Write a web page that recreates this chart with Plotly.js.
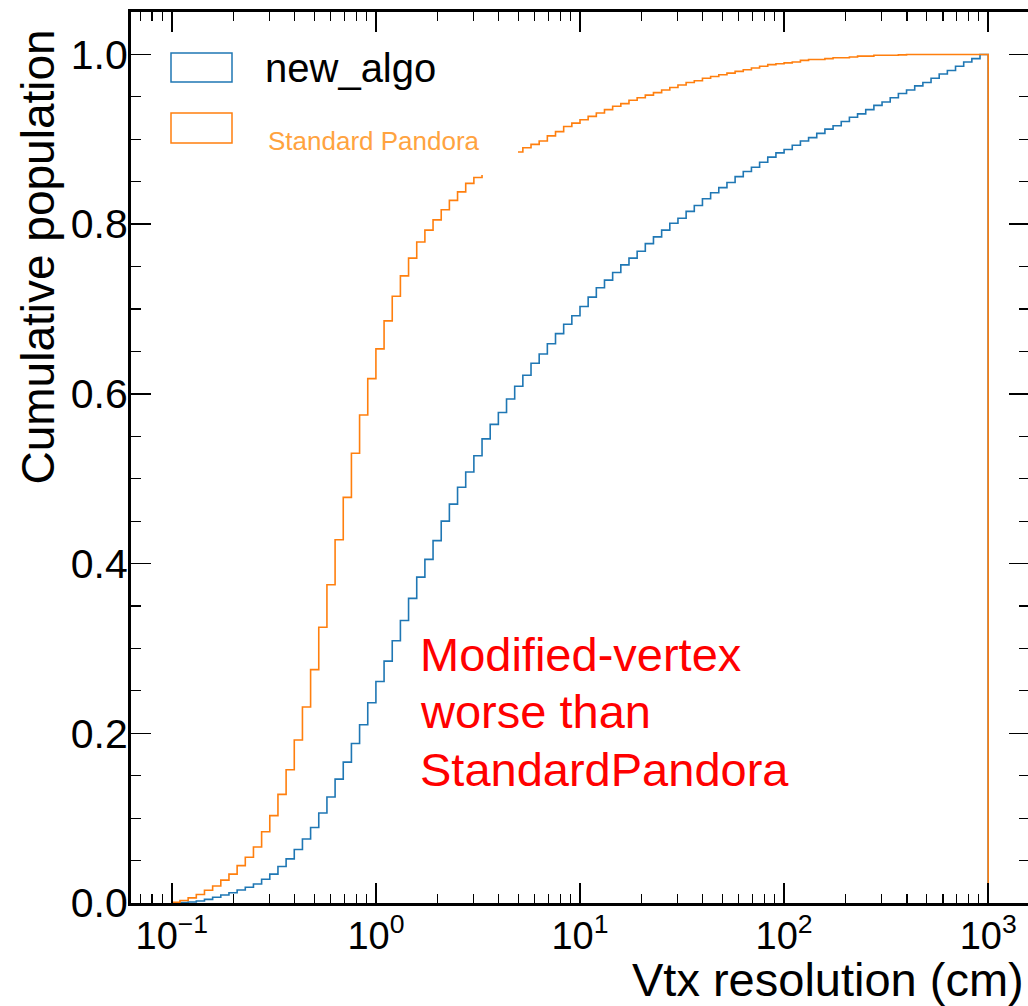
<!DOCTYPE html>
<html>
<head>
<meta charset="utf-8">
<script src="https://cdn.plot.ly/plotly-3.0.1.min.js"></script>
<style>
html, body { margin: 0; padding: 0; overflow: hidden; background: #fff; }
#chart { width: 1031px; height: 1006px; }
</style>
</head>
<body>
<div id="chart"></div>
<script>
// Histogram binning: 100 log-spaced bins from 10^-1 to 10^3 cm
const binLogStart = -1;
const binLogStep = 0.04;

// Cumulative population per bin (value at the bin's right edge)
const newAlgo = [
  0.0003, 0.0006, 0.0012, 0.0024, 0.0043, 0.0067, 0.0094, 0.0120, 0.0153, 0.0185,
  0.0224, 0.0280, 0.0340, 0.0430, 0.0520, 0.0630, 0.0755, 0.0890, 0.1060, 0.1250,
  0.1460, 0.1660, 0.1880, 0.2100, 0.2360, 0.2610, 0.2850, 0.3090, 0.3330, 0.3590,
  0.3840, 0.4050, 0.4270, 0.4500, 0.4700, 0.4900, 0.5080, 0.5270, 0.5470, 0.5640,
  0.5780, 0.5940, 0.6090, 0.6220, 0.6360, 0.6470, 0.6590, 0.6710, 0.6820, 0.6920,
  0.7030, 0.7140, 0.7250, 0.7340, 0.7430, 0.7520, 0.7600, 0.7680, 0.7770, 0.7850,
  0.7930, 0.8010, 0.8070, 0.8150, 0.8220, 0.8300, 0.8370, 0.8430, 0.8490, 0.8560,
  0.8620, 0.8670, 0.8730, 0.8790, 0.8840, 0.8880, 0.8930, 0.8980, 0.9020, 0.9070,
  0.9120, 0.9160, 0.9210, 0.9260, 0.9300, 0.9350, 0.9400, 0.9440, 0.9490, 0.9540,
  0.9580, 0.9630, 0.9670, 0.9720, 0.9770, 0.9810, 0.9860, 0.9910, 0.9950, 1.0000
];

const standardPandora = [
  0.0008, 0.0030, 0.0060, 0.0100, 0.0150, 0.0200, 0.0270, 0.0340, 0.0440, 0.0540,
  0.0660, 0.0840, 0.1030, 0.1280, 0.1570, 0.1920, 0.2310, 0.2750, 0.3250, 0.3750,
  0.4280, 0.4780, 0.5300, 0.5750, 0.6180, 0.6530, 0.6860, 0.7150, 0.7390, 0.7600,
  0.7790, 0.7930, 0.8050, 0.8170, 0.8280, 0.8380, 0.8480, 0.8550, 0.8620, 0.8690,
  0.8750, 0.8800, 0.8850, 0.8900, 0.8940, 0.8980, 0.9040, 0.9090, 0.9150, 0.9190,
  0.9230, 0.9270, 0.9310, 0.9350, 0.9390, 0.9420, 0.9460, 0.9490, 0.9520, 0.9550,
  0.9580, 0.9610, 0.9640, 0.9670, 0.9690, 0.9720, 0.9740, 0.9760, 0.9780, 0.9800,
  0.9820, 0.9840, 0.9860, 0.9880, 0.9890, 0.9900, 0.9910, 0.9930, 0.9940, 0.9940,
  0.9950, 0.9960, 0.9960, 0.9970, 0.9980, 0.9980, 0.9990, 0.9990, 0.9990, 0.9995,
  1.0000, 1.0000, 1.0000, 1.0000, 1.0000, 1.0000, 1.0000, 1.0000, 1.0000, 1.0000
];

const seriesNames = ["new_algo", "Standard Pandora"];
const seriesColors = ["#1f77b4", "#ff7f0e"];
const yTickVals = [0, 0.2, 0.4, 0.6, 0.8, 1.0];
const xTickVals = [0.1, 1, 10, 100, 1000];
const xTickText = ["10<sup>−1</sup>", "10<sup>0</sup>", "10<sup>1</sup>", "10<sup>2</sup>", "10<sup>3</sup>"];
const noteLines = ["Modified-vertex", "worse than", "StandardPandora"];
const xTitle = "Vtx resolution (cm)";
const yTitle = "Cumulative population";

// bin edges
const edges = [];
for (let k = 0; k <= newAlgo.length; k++) edges.push(Math.pow(10, binLogStart + binLogStep * k));

// step outline of a cumulative histogram (histtype='step')
function stepTrace(vals, color, name) {
  const xs = [edges[0]], ys = [0];
  for (let i = 0; i < vals.length; i++) { xs.push(edges[i + 1]); ys.push(vals[i]); }
  xs.push(edges[edges.length - 1]); ys.push(0);
  return {
    type: "scatter", mode: "lines", x: xs, y: ys, name: name,
    line: { shape: "vh", color: color, width: 1.6 },
    hoverinfo: "skip", showlegend: false
  };
}

const traces = [
  stepTrace(newAlgo, seriesColors[0], seriesNames[0]),
  stepTrace(standardPandora, seriesColors[1], seriesNames[1])
];

// minor ticks for the log axis (2..9 x 10^k)
const xMinor = [];
for (let e = -2; e <= 3; e++) for (let m = 2; m <= 9; m++) xMinor.push(m * Math.pow(10, e));

const plain = "'Liberation Sans', Arial, Helvetica, sans-serif";

// pixel helpers for paper coords (plot area: x 131..1029, y 12..903)
const L = 131, R = 1029, T = 12, B = 903;
const px = v => (v - L) / (R - L);
const py = v => (B - v) / (B - T);

const layout = {
  width: 1031, height: 1006,
  margin: { l: L, r: 1031 - R, t: T, b: 1006 - B, pad: 0 },
  paper_bgcolor: "#ffffff", plot_bgcolor: "#ffffff",
  showlegend: false,
  font: { family: plain, color: "#000000", size: 40 },
  xaxis: {
    type: "log", range: [-1.2, 3.2],
    tickvals: xTickVals, ticktext: xTickText,
    ticks: "inside", ticklen: 20, tickwidth: 1.5, tickcolor: "#000",
    ticklabelstandoff: -3,
    minor: { tickvals: xMinor, ticks: "inside", ticklen: 9, tickwidth: 1.2, tickcolor: "#000", showgrid: false },
    showline: true, linewidth: 3, linecolor: "#000", mirror: "ticks",
    showgrid: false, zeroline: false,
    tickfont: { family: plain, size: 38, color: "#000" }
  },
  yaxis: {
    range: [0, 1.05],
    tickvals: yTickVals, tickformat: ".1f",
    ticks: "inside", ticklen: 20, tickwidth: 1.5, tickcolor: "#000",
    ticklabelstandoff: -8,
    minor: { dtick: 0.05, ticks: "inside", ticklen: 10, tickwidth: 1.2, tickcolor: "#000", showgrid: false },
    showline: true, linewidth: 3, linecolor: "#000", mirror: "ticks",
    showgrid: false, zeroline: false,
    tickfont: { family: plain, size: 41, color: "#000" }
  },
  shapes: [
    // white patch pasted over the original legend label
    { type: "rect", xref: "paper", yref: "paper", layer: "above",
      x0: px(245), x1: px(518), y0: py(175), y1: py(100),
      fillcolor: "#ffffff", line: { width: 0 } },
    // legend patches (unfilled step boxes)
    { type: "rect", xref: "paper", yref: "paper", layer: "above",
      x0: px(171), x1: px(232), y0: py(82), y1: py(53),
      fillcolor: "rgba(0,0,0,0)", line: { color: seriesColors[0], width: 1.5 } },
    { type: "rect", xref: "paper", yref: "paper", layer: "above",
      x0: px(171), x1: px(232), y0: py(143), y1: py(113),
      fillcolor: "rgba(0,0,0,0)", line: { color: seriesColors[1], width: 1.5 } }
  ],
  annotations: [
    { text: seriesNames[0], xref: "paper", yref: "paper", x: px(263), y: py(68),
      xanchor: "left", yanchor: "middle", showarrow: false,
      font: { family: plain, size: 40, color: "#000" } },
    { text: seriesNames[1], xref: "paper", yref: "paper", x: px(266), y: py(141),
      xanchor: "left", yanchor: "middle", showarrow: false,
      font: { family: plain, size: 26, color: "#ffa33f" } },
    { text: noteLines[0], xref: "paper", yref: "paper", x: px(418), y: py(654),
      xanchor: "left", yanchor: "middle", showarrow: false,
      font: { family: plain, size: 47, color: "#ff0000" } },
    { text: noteLines[1], xref: "paper", yref: "paper", x: px(418), y: py(711),
      xanchor: "left", yanchor: "middle", showarrow: false,
      font: { family: plain, size: 47, color: "#ff0000" } },
    { text: noteLines[2], xref: "paper", yref: "paper", x: px(418), y: py(769),
      xanchor: "left", yanchor: "middle", showarrow: false,
      font: { family: plain, size: 47, color: "#ff0000" } },
    { text: xTitle, xref: "paper", yref: "paper", x: px(1026), y: py(979),
      xanchor: "right", yanchor: "middle", showarrow: false,
      font: { family: plain, size: 47, color: "#000" } },
    { text: yTitle, xref: "paper", yref: "paper", x: px(37), y: py(28),
      xanchor: "center", yanchor: "top", textangle: -90, showarrow: false,
      font: { family: plain, size: 46, color: "#000" } }
  ]
};

Plotly.newPlot("chart", traces, layout, { staticPlot: true, displayModeBar: false });
</script>
</body>
</html>
